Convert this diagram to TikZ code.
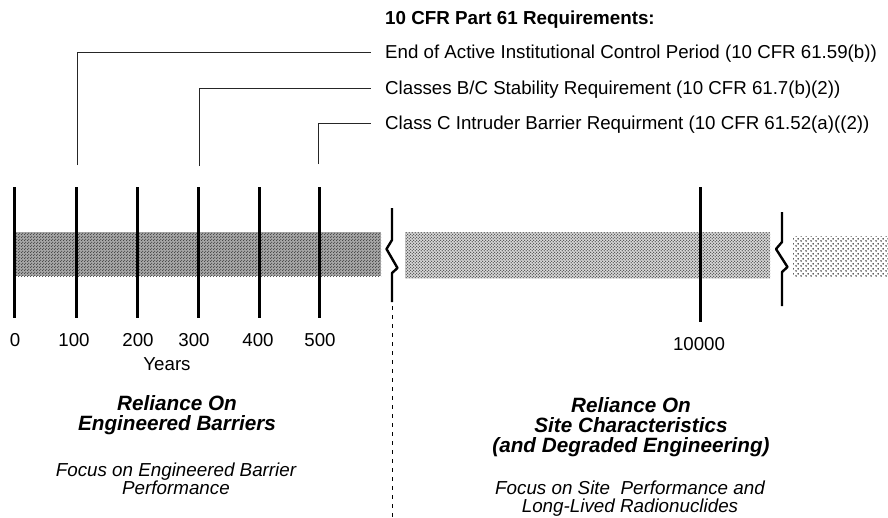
\documentclass[tikz,border=0pt]{standalone}
\usepackage{fontspec}
\setmainfont{Liberation Sans}
\usetikzlibrary{patterns}
\pgfdeclarepatternformonly{densedots}{\pgfpointorigin}{\pgfqpoint{3pt}{3pt}}{\pgfqpoint{3pt}{3pt}}{%
  \pgfpathcircle{\pgfqpoint{0.75pt}{0.75pt}}{0.75pt}%
  \pgfpathcircle{\pgfqpoint{2.25pt}{2.25pt}}{0.75pt}%
  \pgfusepath{fill}}
\pgfdeclarepatternformonly{middots}{\pgfpointorigin}{\pgfqpoint{3.4pt}{3.4pt}}{\pgfqpoint{3.4pt}{3.4pt}}{%
  \pgfpathcircle{\pgfqpoint{0.85pt}{0.85pt}}{0.85pt}%
  \pgfpathcircle{\pgfqpoint{2.55pt}{2.55pt}}{0.85pt}%
  \pgfusepath{fill}}
\pgfdeclarepatternformonly{sparsedots}{\pgfpointorigin}{\pgfqpoint{5pt}{5pt}}{\pgfqpoint{5pt}{5pt}}{%
  \pgfpathcircle{\pgfqpoint{1.25pt}{1.25pt}}{1pt}%
  \pgfpathcircle{\pgfqpoint{3.75pt}{3.75pt}}{1pt}%
  \pgfusepath{fill}}
\begin{document}
\begin{tikzpicture}[x=1pt,y=-1pt,
  tickline/.style={line width=3pt,black},
  breakline/.style={line width=2.4pt,black,line join=round},
  leader/.style={line width=0.9pt,black!85},
  reqtext/.style={anchor=west,inner sep=0pt,text height=13.5pt,text depth=0pt,font=\fontsize{18.7}{20}\selectfont},
  headtext/.style={anchor=base west,inner sep=0pt,font=\fontsize{18.8}{20}\selectfont\bfseries},
  numtext/.style={anchor=base,inner sep=0pt,font=\fontsize{18.7}{20}\selectfont},
  reltext/.style={anchor=base,inner sep=0pt,font=\fontsize{20.7}{20}\selectfont\bfseries\itshape},
  focustext/.style={anchor=base,inner sep=0pt,font=\fontsize{18.8}{18}\selectfont\itshape}]
\useasboundingbox (0,0) rectangle (888,517);
\fill[white] (0,0) rectangle (888,517);

% bars
\fill[black!35] (14,232) rectangle (381,276);
\fill[pattern=densedots,pattern color=black!75] (14,232) rectangle (381,276);
\fill[black!14] (405,232) rectangle (770,278);
\fill[pattern=middots,pattern color=black!70] (405,232) rectangle (770,278);
\fill[pattern=sparsedots,pattern color=black!85] (793,236) rectangle (888,277);

% ticks
\coordinate (t0) at (14,187);
\coordinate (t100) at (76,187);
\coordinate (t200) at (137,187);
\coordinate (t300) at (198,187);
\coordinate (t400) at (259,187);
\coordinate (t500) at (319,187);
\coordinate (t10k) at (700,187);
\foreach \c in {t0,t100,t200,t300,t400,t500}
  \draw[tickline] (\c) -- ++(0,131);
\draw[tickline] (t10k) -- ++(0,135);

% breaks
\draw[breakline] (392,208) -- (392,240) -- (386.5,249) -- (397.5,268) -- (392,273) -- (392,302);
\draw[breakline] (782,212) -- (782,242) -- (776,249) -- (787.5,267) -- (782,272) -- (782,306);
\draw[line width=1pt,dash pattern=on 4pt off 5pt] (392,306) -- (392,517);

% header and requirements
\node[headtext] (head) at (385,24) {10 CFR Part 61 Requirements:};
\node[reqtext] (req1) at (385,52) {End of Active Institutional Control Period (10 CFR 61.59(b))};
\node[reqtext] (req2) at (385,88) {Classes B/C Stability Requirement (10 CFR 61.7(b)(2))};
\node[reqtext] (req3) at (385,123) {Class C Intruder Barrier Requirment (10 CFR 61.52(a)((2))};

\coordinate (l1) at (77,165);
\coordinate (l2) at (199,166);
\coordinate (l3) at (318,164);
\draw[leader] (l1) |- ([xshift=-14pt]req1.west);
\draw[leader] (l2) |- ([xshift=-14pt]req2.west);
\draw[leader] (l3) |- ([xshift=-14pt]req3.west);

% axis labels
\node[numtext] (n0) at (15,346.5) {0};
\node[numtext] (n100) at (74,346.5) {100};
\node[numtext] (n200) at (138,346.5) {200};
\node[numtext] (n300) at (194,346.5) {300};
\node[numtext] (n400) at (258,346.5) {400};
\node[numtext] (n500) at (320,346.5) {500};
\node[numtext] (years) at (167,370.5) {Years};
\node[numtext] (n10k) at (699,350) {10000};

% left block
\node[reltext] (rel1a) at (177,410.5) {Reliance On};
\node[reltext] (rel1b) at (177,430.5) {Engineered Barriers};
\node[focustext] (foc1a) at (176,476) {Focus on Engineered Barrier};
\node[focustext] (foc1b) at (176,494.5) {Performance};

% right block
\node[reltext] (rel2a) at (631,412) {Reliance On};
\node[reltext] (rel2b) at (631,432) {Site Characteristics};
\node[reltext] (rel2c) at (631,452) {(and Degraded Engineering)};
\node[focustext] (foc2a) at (630,494) {Focus on Site\ \ Performance and};
\node[focustext] (foc2b) at (630,512) {Long-Lived Radionuclides};
\end{tikzpicture}
\end{document}
